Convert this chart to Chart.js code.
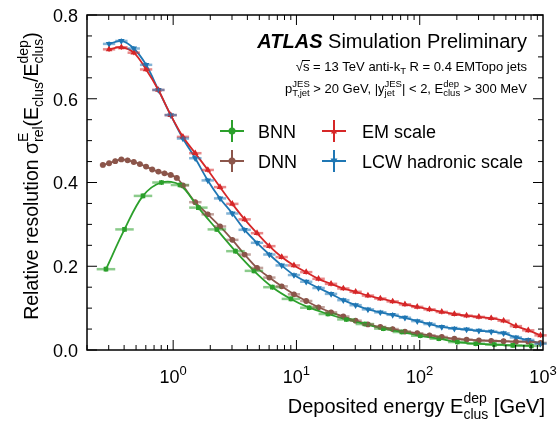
<!DOCTYPE html>
<html>
<head>
<meta charset="utf-8">
<script src="https://cdn.jsdelivr.net/npm/chart.js@4.4.1/dist/chart.umd.min.js"></script>
<style>
  html, body { margin: 0; padding: 0; background: #fff; }
  canvas { display: block; }
</style>
</head>
<body>
<canvas id="chartResolution" width="558" height="424"></canvas>
<script>
// bin centres [GeV] for EM / LCW
const energyGrid = [0.302, 0.380, 0.479, 0.603, 0.759, 0.955, 1.20, 1.51, 1.91, 2.40, 3.02, 3.80,
  4.79, 6.03, 7.59, 9.55, 12.0, 15.1, 19.1, 24.0, 30.2, 38.0, 47.9, 60.3, 75.9, 95.5,
  120, 151, 191, 240, 302, 380, 479, 603, 759, 955];
const emScale = [0.718, 0.723, 0.710, 0.670, 0.621, 0.561, 0.509, 0.470, 0.430, 0.389, 0.349, 0.312,
  0.279, 0.248, 0.222, 0.202, 0.186, 0.170, 0.158, 0.147, 0.139, 0.130, 0.123, 0.116, 0.109, 0.103,
  0.097, 0.091, 0.086, 0.082, 0.079, 0.076, 0.070, 0.057, 0.047, 0.035];
const lcwScale = [0.731, 0.738, 0.720, 0.681, 0.621, 0.561, 0.505, 0.458, 0.405, 0.362, 0.326, 0.287,
  0.256, 0.228, 0.202, 0.179, 0.163, 0.148, 0.134, 0.119, 0.107, 0.097, 0.090, 0.084, 0.077, 0.069,
  0.062, 0.055, 0.051, 0.049, 0.046, 0.044, 0.040, 0.030, 0.024, 0.015];

const bnnEnergy = [0.285, 0.403, 0.569, 0.804, 1.135, 1.60, 2.26, 3.20, 4.52, 6.38, 9.02, 12.7,
  18.0, 25.4, 35.9, 50.7, 71.6, 101, 143, 202, 285, 403, 569, 804];
const bnnValues = [0.193, 0.288, 0.368, 0.400, 0.394, 0.340, 0.288, 0.236, 0.189, 0.150, 0.122, 0.101,
  0.086, 0.073, 0.062, 0.051, 0.043, 0.034, 0.027, 0.019, 0.015, 0.013, 0.011, 0.010];

const dnnEnergy = [0.269, 0.302, 0.339, 0.380, 0.427, 0.479, 0.537, 0.603, 0.676, 0.759, 0.851, 0.955,
  1.07, 1.20, 1.51, 1.91, 2.40, 3.02, 3.80, 4.79, 6.03, 7.59, 9.55, 12.0, 15.1, 19.1, 24.0, 30.2,
  38.0, 47.9, 60.3, 75.9, 95.5, 120, 151, 191, 240, 302, 380, 479, 603, 759, 955];
const dnnValues = [0.442, 0.446, 0.451, 0.455, 0.453, 0.449, 0.444, 0.438, 0.431, 0.426, 0.422, 0.418,
  0.411, 0.393, 0.353, 0.324, 0.295, 0.263, 0.228, 0.196, 0.173, 0.152, 0.133, 0.117, 0.102, 0.090,
  0.080, 0.070, 0.061, 0.055, 0.050, 0.044, 0.040, 0.035, 0.031, 0.027, 0.025, 0.023, 0.022, 0.021,
  0.020, 0.020, 0.017];

const xMajorTicks = [1, 10, 100, 1000];
const xTickExp = ['0', '1', '2', '3'];
const yMajorTicks = [0, 0.2, 0.4, 0.6, 0.8];

const GREEN = '#2ca02c', BROWN = '#8c564b', RED = '#d62728', BLUE = '#1f77b4';
const FONT = "'Liberation Sans', Arial, Helvetica, sans-serif";

function pairs(xs, ys) {
  return xs.map((x, i) => ({ x: x, y: ys[i] }));
}

function series(label, xs, ys, color, style, rot) {
  return {
    label: label,
    data: pairs(xs, ys),
    borderColor: color,
    backgroundColor: color,
    borderWidth: 1.8,
    tension: 0.35,
    pointStyle: style,
    pointRotation: rot || 0,
    pointRadius: 2,
    pointHoverRadius: 2,
    errColor: color
  };
}

// font helper
function f(size, style) {
  return (style || '') + ' ' + size + 'px ' + FONT;
}

// text with sup/sub; parts {t, s, dy, st, hold}
function richWidth(ctx, parts) {
  let x = 0, stackW = 0;
  for (const p of parts) {
    ctx.font = f(p.s, p.st);
    const w = ctx.measureText(p.t).width;
    if (p.hold) stackW = Math.max(stackW, w);
    else { x += Math.max(stackW, w); stackW = 0; }
  }
  return x;
}

function richText(ctx, parts, x, y) {
  let cx = x, stackW = 0;
  ctx.textAlign = 'left';
  ctx.textBaseline = 'alphabetic';
  for (const p of parts) {
    ctx.font = f(p.s, p.st);
    ctx.fillText(p.t, cx, y + (p.dy || 0));
    const w = ctx.measureText(p.t).width;
    if (p.hold) stackW = Math.max(stackW, w);
    else { cx += Math.max(stackW, w); stackW = 0; }
  }
  return cx;
}

// horizontal bin-width bars, drawn in lighter colour
const binBars = {
  id: 'binBars',
  afterDatasetsDraw(chart) {
    const ctx = chart.ctx;
    const xs = chart.scales.x, ys = chart.scales.y;
    ctx.save();
    chart.data.datasets.forEach(ds => {
      const pts = ds.data;
      ctx.strokeStyle = ds.errColor;
      ctx.globalAlpha = 0.55;
      ctx.lineWidth = 2.5;
      for (let i = 0; i < pts.length; i++) {
        const lx = Math.log10(pts[i].x);
        const prev = i > 0 ? Math.log10(pts[i - 1].x) : 2 * lx - Math.log10(pts[i + 1].x);
        const next = i < pts.length - 1 ? Math.log10(pts[i + 1].x) : 2 * lx - prev;
        const x0 = xs.getPixelForValue(Math.pow(10, (lx + prev) / 2));
        const x1 = xs.getPixelForValue(Math.pow(10, (lx + next) / 2));
        const py = ys.getPixelForValue(pts[i].y);
        ctx.beginPath();
        ctx.moveTo(x0, py);
        ctx.lineTo(x1, py);
        ctx.stroke();
      }
      ctx.globalAlpha = 1;
      ctx.lineWidth = 1;
      for (let i = 0; i < pts.length; i++) {
        const px = xs.getPixelForValue(pts[i].x);
        const py = ys.getPixelForValue(pts[i].y);
        ctx.beginPath();
        ctx.moveTo(px, py - 2.5);
        ctx.lineTo(px, py + 2.5);
        ctx.stroke();
      }
    });
    ctx.restore();
  }
};

function legendMark(ctx, x, y, color, kind) {
  ctx.save();
  ctx.strokeStyle = color;
  ctx.fillStyle = color;
  ctx.lineWidth = 2;
  ctx.beginPath();
  ctx.moveTo(x - 12, y); ctx.lineTo(x + 12, y);
  ctx.moveTo(x, y - 11); ctx.lineTo(x, y + 11);
  ctx.stroke();
  ctx.beginPath();
  if (kind === 'circle') {
    ctx.arc(x, y, 3.5, 0, Math.PI * 2);
  } else if (kind === 'up') {
    ctx.moveTo(x, y - 3); ctx.lineTo(x + 3, y + 2.5); ctx.lineTo(x - 3, y + 2.5);
  } else {
    ctx.moveTo(x, y + 3.5); ctx.lineTo(x + 3.5, y - 2.5); ctx.lineTo(x - 3.5, y - 2.5);
  }
  ctx.fill();
  ctx.restore();
}

const frame = {
  id: 'frame',
  afterDraw(chart) {
    const ctx = chart.ctx;
    const a = chart.chartArea;
    const xs = chart.scales.x, ys = chart.scales.y;
    ctx.save();
    ctx.strokeStyle = '#000';
    ctx.lineWidth = 1.5;
    ctx.strokeRect(a.left, a.top, a.right - a.left, a.bottom - a.top);

    // ticks on all four sides, pointing inwards
    ctx.lineWidth = 1;
    ctx.beginPath();
    for (let d = 0.1; d < 1000; d *= 10) {
      for (let m = 1; m < 10; m++) {
        const v = d * m;
        if (v < 0.2 || v > 1000) continue;
        const px = xs.getPixelForValue(v);
        const len = m === 1 ? 10 : 5;
        ctx.moveTo(px, a.bottom); ctx.lineTo(px, a.bottom - len);
        ctx.moveTo(px, a.top); ctx.lineTo(px, a.top + len);
      }
    }
    for (let k = 0; k <= 16; k++) {
      const v = k * 0.05;
      const py = ys.getPixelForValue(v);
      const len = k % 4 === 0 ? 10 : 5;
      ctx.moveTo(a.left, py); ctx.lineTo(a.left + len, py);
      ctx.moveTo(a.right, py); ctx.lineTo(a.right - len, py);
    }
    ctx.stroke();

    ctx.fillStyle = '#000';
    // y tick labels
    ctx.font = f(18);
    ctx.textAlign = 'right';
    ctx.textBaseline = 'middle';
    yMajorTicks.forEach(v => {
      ctx.fillText(v.toFixed(1), a.left - 9, ys.getPixelForValue(v) + 2);
    });
    // x tick labels 10^n
    xMajorTicks.forEach((v, i) => {
      const parts = [{ t: '10', s: 18 }, { t: xTickExp[i], s: 13, dy: -8 }];
      const w = richWidth(ctx, parts);
      richText(ctx, parts, xs.getPixelForValue(v) - w / 2, a.bottom + 33);
    });

    // x title
    const xt = [{ t: 'Deposited energy E', s: 20 }, { t: 'dep', s: 14, dy: -10, hold: true },
      { t: 'clus', s: 14, dy: 6 }, { t: ' [GeV]', s: 20 }];
    richText(ctx, xt, a.right + 2 - richWidth(ctx, xt), 413);

    // y title, rotated
    const yt = [{ t: 'Relative resolution \u03c3', s: 19.5 }, { t: 'E', s: 14, dy: -10, hold: true },
      { t: 'rel', s: 14, dy: 5 }, { t: '(E', s: 19.5 }, { t: 'clus', s: 14, dy: 5 },
      { t: '/E', s: 19.5 }, { t: 'dep', s: 14, dy: -10, hold: true }, { t: 'clus', s: 14, dy: 5 },
      { t: ')', s: 19.5 }];
    ctx.save();
    ctx.translate(38, 176);
    ctx.rotate(-Math.PI / 2);
    richText(ctx, yt, -richWidth(ctx, yt) / 2, 0);
    ctx.restore();

    // ATLAS label
    const right = 527;
    const l1 = [{ t: 'ATLAS', s: 20, st: 'italic bold' }, { t: ' Simulation Preliminary', s: 20 }];
    richText(ctx, l1, right - richWidth(ctx, l1), 48);
    const l2 = [{ t: '\u221a', s: 13 }, { t: 's', s: 13 }, { t: ' = 13 TeV anti-k', s: 13 },
      { t: 'T', s: 9.5, dy: 3 }, { t: ' R = 0.4 EMTopo jets', s: 13 }];
    const x2 = right - richWidth(ctx, l2);
    richText(ctx, l2, x2, 71);
    ctx.font = f(13);
    const sq = ctx.measureText('\u221a').width;
    const sw = ctx.measureText('s').width;
    ctx.lineWidth = 1;
    ctx.beginPath();
    ctx.moveTo(x2 + sq - 1, 60.5); ctx.lineTo(x2 + sq + sw + 0.5, 60.5);
    ctx.stroke();
    const l3 = [{ t: 'p', s: 13 }, { t: 'JES', s: 9.5, dy: -6, hold: true }, { t: 'T,jet', s: 9.5, dy: 3 },
      { t: ' > 20 GeV, |y', s: 13 }, { t: 'JES', s: 9.5, dy: -6, hold: true }, { t: 'jet', s: 9.5, dy: 3 },
      { t: '| < 2, E', s: 13 }, { t: 'dep', s: 9.5, dy: -6, hold: true }, { t: 'clus', s: 9.5, dy: 3 },
      { t: ' > 300 MeV', s: 13 }];
    richText(ctx, l3, right - richWidth(ctx, l3), 93);

    // legend
    legendMark(ctx, 232, 131, GREEN, 'circle');
    legendMark(ctx, 232, 161, BROWN, 'circle');
    legendMark(ctx, 334, 131, RED, 'up');
    legendMark(ctx, 334, 161, BLUE, 'down');
    ctx.fillStyle = '#000';
    ctx.font = f(18);
    ctx.textAlign = 'left';
    ctx.textBaseline = 'alphabetic';
    ctx.fillText('BNN', 258, 138);
    ctx.fillText('DNN', 258, 168);
    ctx.fillText('EM scale', 362, 138);
    ctx.fillText('LCW hadronic scale', 362, 168);
    ctx.restore();
  }
};

const chart = document.getElementById('chartResolution');

new Chart(chart, {
  type: 'line',
  data: {
    datasets: [
      series('BNN', bnnEnergy, bnnValues, GREEN, 'rect', 0),
      series('DNN', dnnEnergy, dnnValues, BROWN, 'circle', 0),
      series('EM scale', energyGrid, emScale, RED, 'triangle', 0),
      series('LCW hadronic scale', energyGrid, lcwScale, BLUE, 'triangle', 180)
    ]
  },
  options: {
    responsive: false,
    animation: false,
    devicePixelRatio: 1,
    layout: {
      padding: { left: 87, top: 15, right: 15, bottom: 74 }
    },
    plugins: {
      legend: { display: false },
      title: { display: false },
      tooltip: { enabled: false }
    },
    scales: {
      x: { type: 'logarithmic', min: 0.2, max: 1000, display: false },
      y: { type: 'linear', min: 0, max: 0.8, display: false }
    }
  },
  plugins: [binBars, frame]
});
</script>
</body>
</html>
